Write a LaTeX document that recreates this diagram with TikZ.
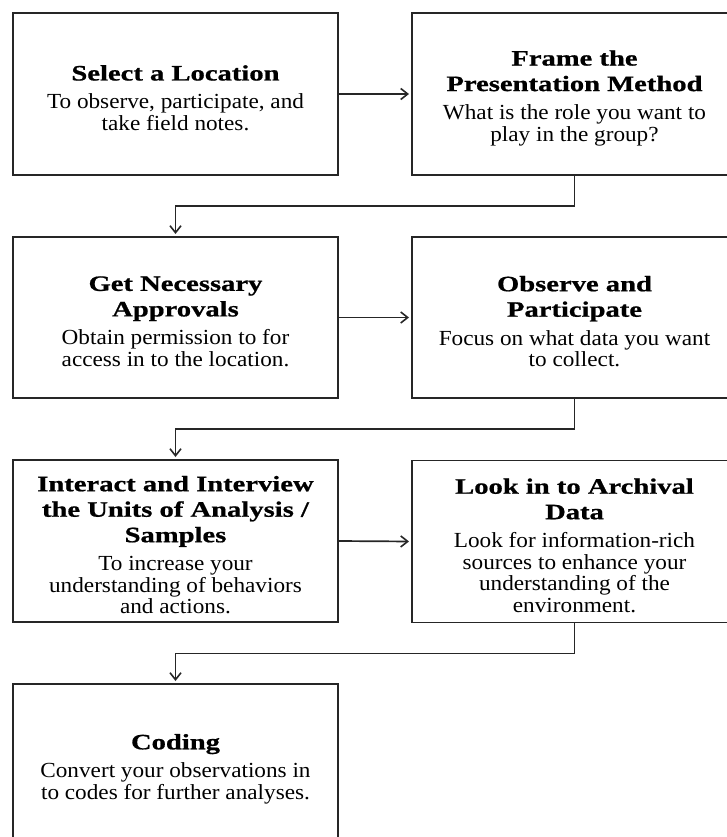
\documentclass[tikz,border=0pt]{standalone}
\usepackage{fontspec}
\setmainfont{Liberation Serif}
\newfontfamily\ttlfam[FakeStretch=1.3, BoldFeatures={FakeBold=0.8}]{Liberation Serif}
\newfontfamily\bdyfam[FakeStretch=1.08]{Liberation Serif}
\usetikzlibrary{arrows.meta}

% heading + description, stacked and centred (a little below the middle)
\newcommand{\steptext}[2]{\parbox{322pt}{\centering\vspace*{8pt}%
  {\ttlfam\bfseries\fontsize{22}{25.5}\selectfont #1\par}\vspace{7pt}%
  {\bdyfam\fontsize{21.5}{21.5}\selectfont #2\par}}}

\tikzset{
  stepbox/.style={draw=black!85, line width=1.8pt, minimum width=325pt,
    minimum height=162pt, inner sep=0pt, outer sep=0pt},
  flow/.style={draw=black!85, line width=1.7pt, shorten >=3pt,
    -{Straight Barb[length=7pt,width=11pt,line width=1.6pt]}}
}

\begin{document}
\begin{tikzpicture}[x=1pt,y=-1pt]
\useasboundingbox (0,0) rectangle (726,837);

\node[stepbox] (loc) at (175.5,94)
  {\steptext{Select a Location}{To observe, participate, and\\take field notes.}};
\node[stepbox] (frame) at (574.5,94)
  {\steptext{Frame the\\Presentation Method}{What is the role you want to\\play in the group?}};
\node[stepbox, minimum height=161pt] (appr) at (175.5,317.5)
  {\steptext{Get Necessary\\Approvals}{Obtain permission to for\\access in to the location.}};
\node[stepbox, minimum height=161pt] (obs) at (574.5,317.5)
  {\steptext{Observe and\\Participate}{Focus on what data you want\\to collect.}};
\node[stepbox] (inter) at (175.5,541)
  {\steptext{Interact and Interview\\the Units of Analysis /\\Samples}{To increase your\\understanding of behaviors\\and actions.}};
\node[stepbox] (arch) at (574.5,541.5)
  {\steptext{Look in to Archival\\Data}{Look for information-rich\\sources to enhance your\\understanding of the\\environment.}};
\node[stepbox] (code) at (175.5,765)
  {\steptext{Coding}{Convert your observations in\\to codes for further analyses.}};

% left-to-right steps
\draw[flow] (loc.east) -- (frame.west);
\draw[flow] (appr.east) -- (obs.west);
\draw[flow] (inter.east) -- (arch.west);

% return to the next row
\draw[flow] (frame.south) -- ++(0,-31pt) -| (appr.north);
\draw[flow] (obs.south) -- ++(0,-31pt) -| (inter.north);
\draw[flow] (arch.south) -- ++(0,-31pt) -| (code.north);
\end{tikzpicture}
\end{document}
